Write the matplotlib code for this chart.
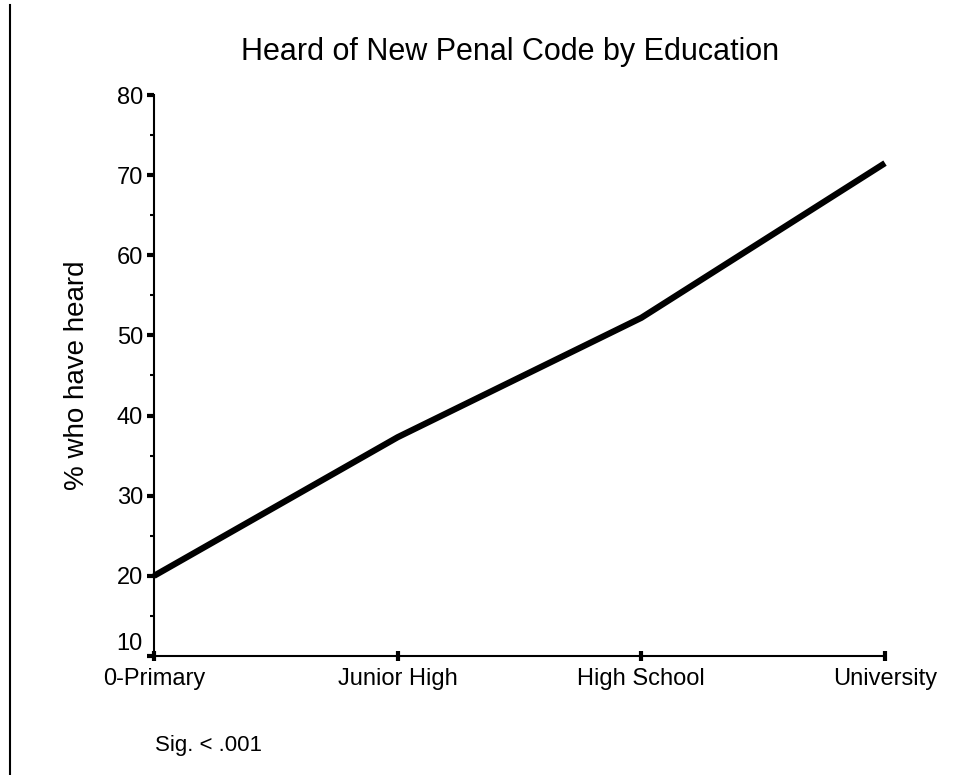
import matplotlib
matplotlib.use("Agg")
import matplotlib.pyplot as plt
from matplotlib.lines import Line2D
from matplotlib.ticker import MultipleLocator
from matplotlib.transforms import ScaledTranslation

categories = ["0-Primary", "Junior High", "High School", "University"]
values = [20.0, 37.3, 52.2, 71.5]
y_ticks = [10, 20, 30, 40, 50, 60, 70, 80]

plt.rcParams['font.family'] = ['Liberation Sans', 'DejaVu Sans']

W, H = 972, 775
fig = plt.figure(figsize=(W / 100, H / 100), dpi=100)
ax_l, ax_r, ax_t, ax_b = 154, 885, 95, 656
ax = fig.add_axes([ax_l / W, 1 - ax_b / H, (ax_r - ax_l) / W, (ax_b - ax_t) / H])

x = list(range(len(categories)))
ax.plot(x, values, color='black', linewidth=4.5, solid_capstyle='butt', solid_joinstyle='miter', clip_on=False)

ax.set_xlim(0, len(categories) - 1)
ax.set_ylim(10, 80)
ax.set_xticks(x)
ax.set_xticklabels(categories, fontsize=17)
ax.set_yticks(y_ticks)
ax.set_yticklabels([str(t) for t in y_ticks], fontsize=17)
ax.yaxis.set_minor_locator(MultipleLocator(5))

for s in ['top', 'right']:
    ax.spines[s].set_visible(False)
for s in ['left', 'bottom']:
    ax.spines[s].set_linewidth(1.5)

ax.tick_params(axis='y', which='major', direction='out', length=5, width=3, pad=3)
ax.tick_params(axis='y', which='minor', direction='out', length=3, width=1.5)
ax.tick_params(axis='x', which='major', direction='inout', length=7, width=3, pad=5)

# raise the lowest y label so it clears the first category label
lowest = ax.get_yticklabels()[0]
lowest.set_transform(lowest.get_transform() + ScaledTranslation(0, 0.15, fig.dpi_scale_trans))

ax.set_ylabel("% who have heard", fontsize=20)
ax.yaxis.set_label_coords((90 - ax_l) / (ax_r - ax_l), (ax_b - 375) / (ax_b - ax_t))
fig.text(510 / W, 1 - 52 / H, "Heard of New Penal Code by Education", fontsize=22,
         ha='center', va='center')
fig.text(155 / W, 1 - 745 / H, "Sig. < .001", fontsize=16, ha='left', va='center')

fig.add_artist(Line2D([10 / W, 10 / W], [0, 1 - 5 / H], color='black', linewidth=1.5,
                      transform=fig.transFigure))

fig.savefig("out.png", dpi=100)
